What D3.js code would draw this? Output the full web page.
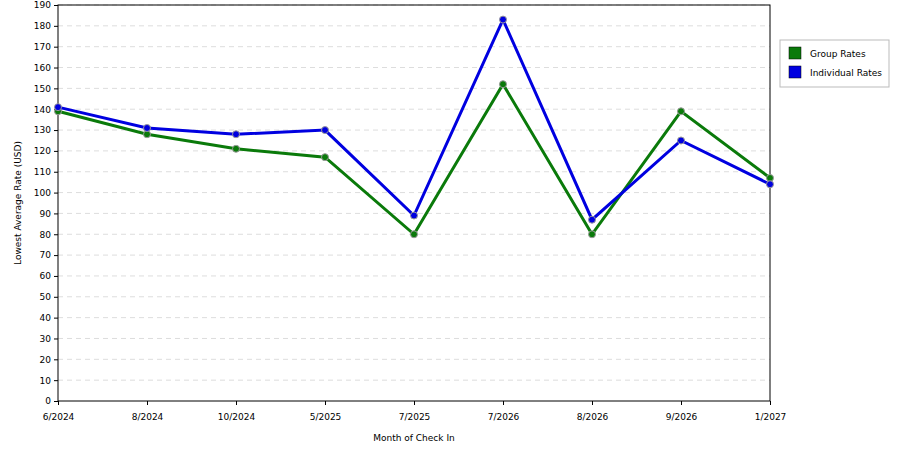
<!DOCTYPE html><html><head><script src="https://cdn.jsdelivr.net/npm/d3@7"></script>
<style>body{margin:0;background:#fff}text{font-family:"DejaVu Sans",Verdana,sans-serif;font-size:9px}</style></head><body><svg id="c" width="900" height="450"></svg>
<script>
const categories=["6/2024","8/2024","10/2024","5/2025","7/2025","7/2026","8/2026","9/2026","1/2027"];
const groupRates=[139,128,121,117,80,152,80,139,107];
const individualRates=[141,131,128,130,89,183,87,125,104];
const yTicks=d3.range(0,191,10);
const svg=d3.select("#c");
const L=58,R=770,T=5,B=401;
const x=d3.scalePoint().domain(categories).range([L,R]);
const y=d3.scaleLinear().domain([0,190]).range([B,T]);
svg.append("g").selectAll("line").data(yTicks.slice(1)).join("line")
 .attr("x1",L).attr("x2",R).attr("y1",d=>y(d)).attr("y2",d=>y(d)).attr("stroke","#ddd").attr("stroke-dasharray","5,4");
svg.append("rect").attr("x",L).attr("y",T).attr("width",R-L).attr("height",B-T).attr("fill","none").attr("stroke","#000");
const ya=svg.append("g").attr("transform",`translate(${L},0)`).call(d3.axisLeft(y).tickValues(yTicks).tickSize(4).tickPadding(3));
const xa=svg.append("g").attr("transform",`translate(0,${B})`).call(d3.axisBottom(x).tickSize(4).tickPadding(9));
[ya,xa].forEach(a=>{a.select(".domain").remove();a.selectAll("text").style("font-size","9px").attr("fill","#000");});
svg.append("text").attr("x",414).attr("y",441).attr("text-anchor","middle").text("Month of Check In");
svg.append("text").attr("transform","translate(21,203) rotate(-90)").attr("text-anchor","middle").text("Lowest Average Rate (USD)");
const series=[{v:groupRates,c:"#0a7a0a",n:"Group Rates"},{v:individualRates,c:"#0000e0",n:"Individual Rates"}];
series.forEach(s=>{
 svg.append("path").datum(s.v).attr("fill","none").attr("stroke",s.c).attr("stroke-width",3)
  .attr("d",d3.line().x((d,i)=>x(categories[i])).y(d=>y(d)));
 svg.append("g").selectAll("circle").data(s.v).join("circle").attr("cx",(d,i)=>x(categories[i])).attr("cy",d=>y(d)).attr("r",3.5)
  .attr("fill",s.c).attr("stroke","#9a9a9a").attr("stroke-width",1);
});
const lg=svg.append("g");
lg.append("rect").attr("x",780).attr("y",40).attr("width",109).attr("height",47).attr("fill","#fff").attr("stroke","#bbb");
series.forEach((s,i)=>{
 lg.append("rect").attr("x",789).attr("y",47+i*19).attr("width",12).attr("height",12).attr("fill",s.c).attr("stroke","#000").attr("stroke-width",0.5);
 lg.append("text").attr("x",810).attr("y",57+i*19).text(s.n);
});
</script></body></html>
